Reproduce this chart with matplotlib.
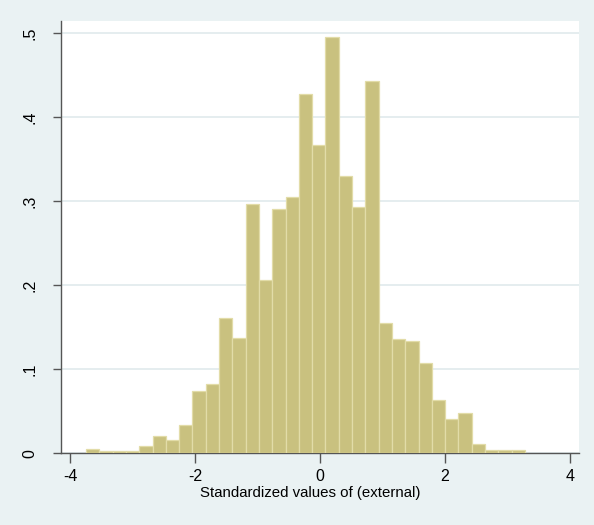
import matplotlib

matplotlib.use("Agg")

import matplotlib.pyplot as plt
import numpy as np

# 直方图密度
density = [
    0.0048, 0.0024, 0.0024, 0.0024, 0.0090, 0.0202, 0.0155, 0.0333,
    0.0742, 0.0829, 0.1614, 0.1376, 0.2971, 0.2060, 0.2905, 0.3055,
    0.4277, 0.3670, 0.4960, 0.3297, 0.2929, 0.4436, 0.1555, 0.1357,
    0.1333, 0.1071, 0.0631, 0.0412, 0.0484, 0.0115, 0.0043, 0.0043,
    0.0043,
]
bin_start = -3.744
bin_width = 0.2128

x_ticks = [-4, -2, 0, 2, 4]
y_ticks = [0, 0.1, 0.2, 0.3, 0.4, 0.5]
y_tick_labels = ["0", ".1", ".2", ".3", ".4", ".5"]
x_label = "Standardized values of (external)"

BG = "#EAF2F3"
FILL = "#C9C17F"
EDGE = "#E2DCA8"
AXIS = "#555555"

plt.rcParams["font.family"] = ["Liberation Sans", "DejaVu Sans"]

fig = plt.figure(figsize=(5.94, 5.25), dpi=100, facecolor=BG)
ax = fig.add_axes([0.1027, 0.1366, 0.8726, 0.8234])
ax.set_facecolor("white")

edges = bin_start + bin_width * np.arange(len(density))
ax.bar(
    edges,
    density,
    width=bin_width,
    align="edge",
    color=FILL,
    edgecolor=EDGE,
    linewidth=0.9,
    zorder=3,
)

ax.set_xlim(-4.144, 4.149)
ax.set_ylim(0, 0.5146)

ax.set_xticks(x_ticks)
ax.set_xticklabels([str(t) for t in x_ticks], fontsize=11.5)
ax.set_yticks(y_ticks)
ax.set_yticklabels(y_tick_labels, fontsize=11.5, rotation=90, va="center")

ax.grid(True, axis="y", color="#E3ECEE", linewidth=1.3, zorder=0)
ax.set_axisbelow(True)

for side in ["top", "right"]:
    ax.spines[side].set_visible(False)
for side in ["left", "bottom"]:
    ax.spines[side].set_color(AXIS)
    ax.spines[side].set_linewidth(1.0)

ax.tick_params(axis="x", length=7, width=1.0, color=AXIS, pad=4)
ax.tick_params(axis="y", length=6, width=1.0, color=AXIS, pad=11)

ax.set_xlabel(x_label, fontsize=10.8)
ax.xaxis.set_label_coords(0.48, -0.075)

fig.savefig("out.png", dpi=100, facecolor=BG)
